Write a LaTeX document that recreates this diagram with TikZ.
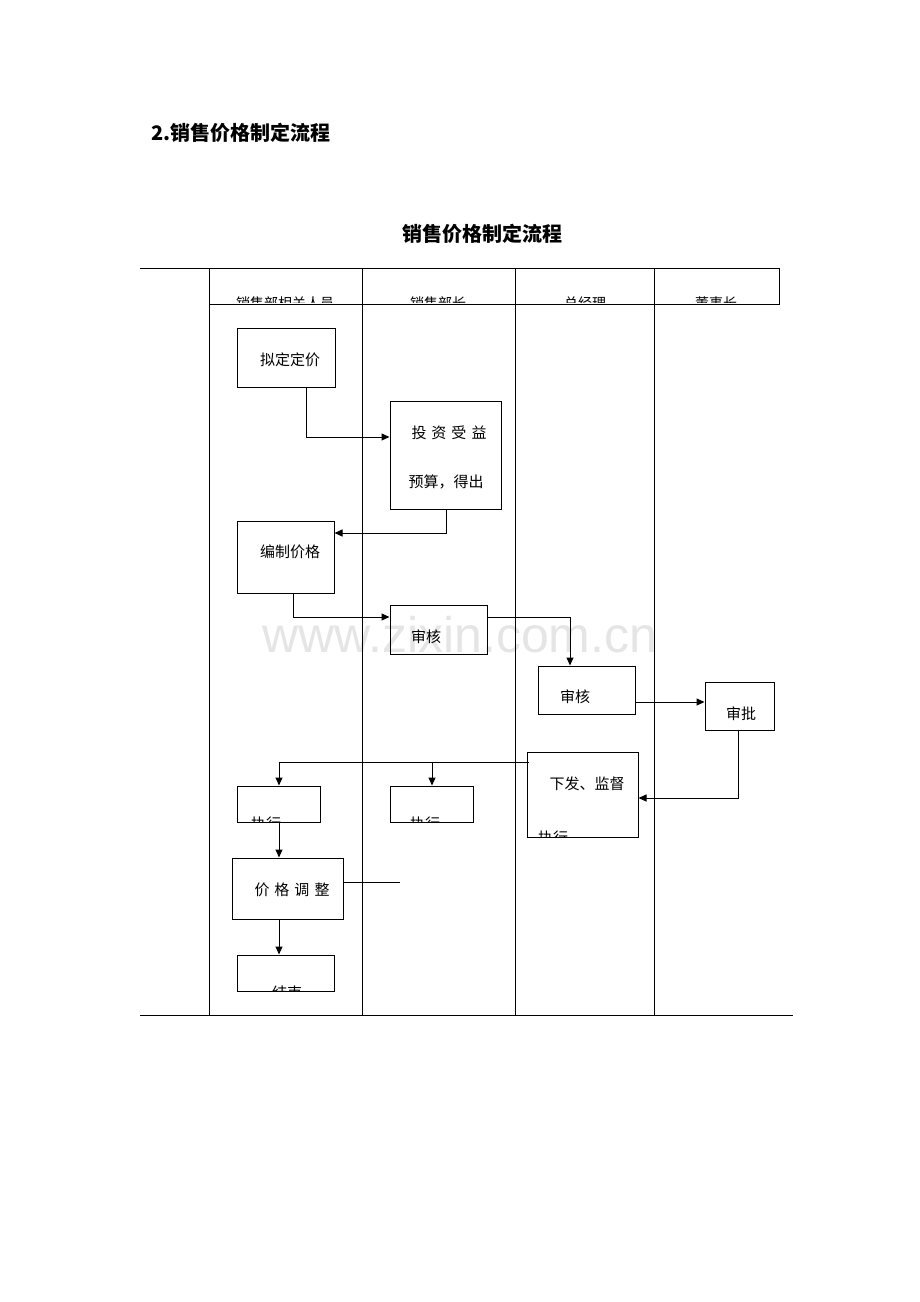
\documentclass[tikz,border=0pt]{standalone}
\usepackage{fontspec}
\setmainfont{Liberation Sans}
\newfontfamily\cjk{Noto Sans CJK SC}
\usetikzlibrary{arrows.meta}
\begin{document}
\begin{tikzpicture}[x=1pt,y=-1pt,
  box/.style={draw,line width=1pt,rectangle},
  lbl/.style={font=\cjk\fontsize{15}{18}\selectfont,inner sep=0},
  hd/.style={font=\cjk\fontsize{14}{16}\selectfont,inner sep=0},
  arr/.style={line width=1pt,-{Triangle[length=8pt,width=7pt]}},
  ln/.style={line width=1pt}]
\useasboundingbox (0,0) rectangle (920,1302);
\node[font=\cjk\bfseries\fontsize{20}{24}\selectfont,anchor=west] (t1) at (148,133) {2.销售价格制定流程};
\node[font=\cjk\bfseries\fontsize{20}{24}\selectfont] (t2) at (482,234) {销售价格制定流程};
\node[font=\fontsize{50}{56}\selectfont,text=black!10] (wm) at (460,635) {www.zixin.com.cn};
% frame
\draw[ln] (140,268) -- (209,268);
\draw[ln] (209,268) rectangle (779,304);
\foreach \x in {209,362,515,654} \draw[ln] (\x,304) -- (\x,1015);
\foreach \x in {362,515,654} \draw[ln] (\x,268) -- (\x,304);
\draw[ln] (140,1015) -- (793,1015);
\begin{scope}
\clip (200,268) rectangle (790,302.5);
\node[hd] (h1) at (285,303) {销售部相关人员};
\node[hd] (h2) at (438,303) {销售部长};
\node[hd] (h3) at (585,303) {总经理};
\node[hd] (h4) at (716,303) {董事长};
\end{scope}
% boxes
\node[box,minimum width=98,minimum height=59] (a) at (286,357.5) {};
\node[lbl] at (290,360) {拟定定价};
\node[box,minimum width=111,minimum height=108] (b) at (445.5,455) {};
\node[lbl] at (449,433) {投\,\,资\,\,受\,\,益};
\node[lbl] at (446,482) {预算，得出};
\node[box,minimum width=97,minimum height=72] (c) at (285.5,557) {};
\node[lbl] at (290,552) {编制价格};
\node[box,minimum width=97,minimum height=49] (d) at (438.5,629.5) {};
\node[lbl] at (426,637) {审核};
\node[box,minimum width=97,minimum height=48] (e) at (586.5,690) {};
\node[lbl] at (575,697) {审核};
\node[box,minimum width=69,minimum height=48] (f) at (739.5,706) {};
\node[lbl] at (741,714) {审批};
\node[box,minimum width=111,minimum height=85] (g) at (582.5,794.5) {};
\node[lbl] at (587,784) {下发、监督};
\node[box,minimum width=83,minimum height=36] (h) at (278.5,804) {};
\node[box,minimum width=83,minimum height=36] (i) at (431.5,804) {};
\node[box,minimum width=111,minimum height=61] (j) at (287.5,888.5) {};
\node[lbl] at (292,890) {价\,\,格\,\,调\,\,整};
\node[box,minimum width=97,minimum height=36] (k) at (285.5,973) {};
\begin{scope}
\clip (g.south west) ++(1,-1) rectangle (g.north east);
\node[lbl] at (553,838) {执行};
\end{scope}
\begin{scope}
\clip (h.south west) ++(1,-1) rectangle (h.north east);
\node[lbl] at (266,824) {执行};
\end{scope}
\begin{scope}
\clip (i.south west) ++(1,-1) rectangle (i.north east);
\node[lbl] at (425,824) {执行};
\end{scope}
\begin{scope}
\clip (k.south west) ++(1,-1) rectangle (k.north east);
\node[lbl] at (287,993) {结束};
\end{scope}
% connectors
\draw[arr] (a.south -| 306,0) |- (b.west |- 0,437);
\draw[arr] (b.south -| 446,0) |- (c.east |- 0,533);
\draw[arr] (c.south -| 293,0) |- (d.west |- 0,617);
\draw[arr] (d.east |- 0,617) -| (e.north -| 570,0);
\draw[arr] (e.east |- 0,702) -- (f.west |- 0,702);
\draw[arr] (f.south -| 738,0) |- (g.east |- 0,798);
\coordinate (gl) at (529,762);
\draw[arr] (gl) -| (h.north -| 279,0);
\draw[arr] (432,762) -- (i.north -| 432,0);
\draw[arr] (h.south -| 279,0) -- (j.north -| 279,0);
\draw[arr] (j.south -| 279,0) -- (k.north -| 279,0);
\coordinate (je) at (400,882);
\draw[ln] (j.east |- 0,882) -- (je);
\end{tikzpicture}
\end{document}
